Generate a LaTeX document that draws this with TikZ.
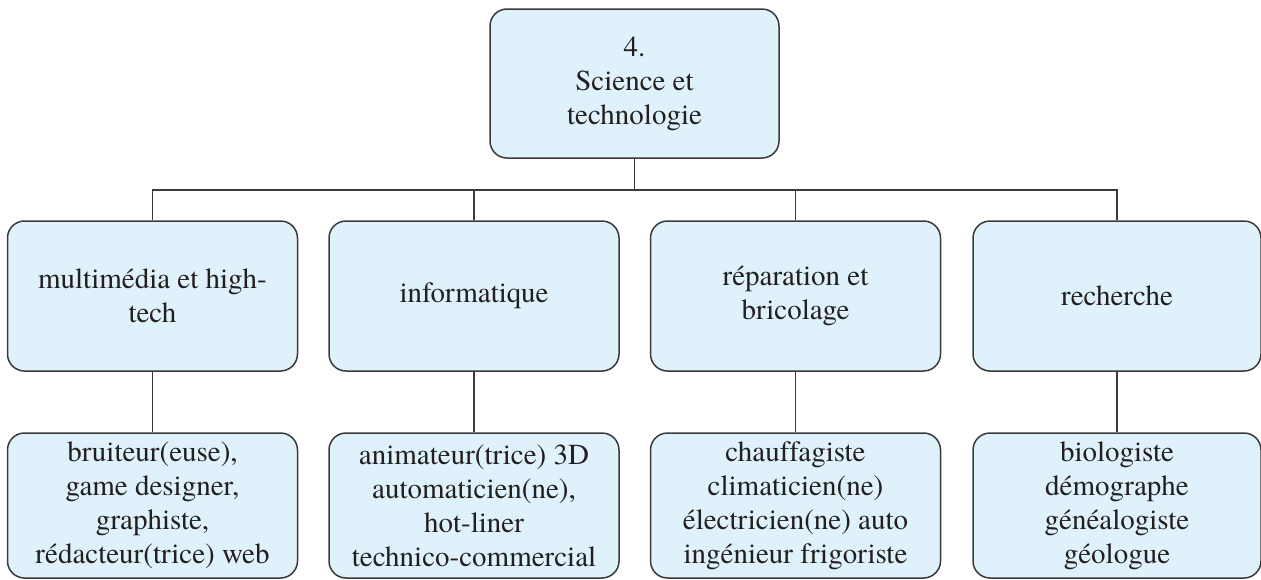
\documentclass[tikz,border=0pt]{standalone}
\usepackage{fontspec}
\setmainfont{TeX Gyre Termes}[Ligatures=NoCommon]
\definecolor{boxfill}{RGB}{223,242,251}
\definecolor{boxline}{RGB}{58,58,60}
\definecolor{txt}{RGB}{35,31,32}
\begin{document}
\begin{tikzpicture}[x=1pt,y=-1pt,
  cbox/.style={draw=boxline, line width=1.5pt, fill=boxfill, rounded corners=17pt,
    minimum width=290pt, align=center, text=txt, inner sep=0pt,
    font=\fontsize{29}{34}\selectfont},
  midbox/.style={cbox, minimum height=150pt},
  lowbox/.style={cbox, minimum height=145pt},
  link/.style={draw=boxline, line width=1.5pt}]
\useasboundingbox (0,0) rectangle (1261,579);
\node[cbox, minimum width=289pt, minimum height=149pt] (top) at (634.5,83.5) {4.\\Science et\\technologie};
\coordinate (bus) at (634.5,190);
\node[midbox] (m1) at (152.5,296) {multimédia et high-\\tech};
\node[midbox] (m2) at (474,296) {informatique};
\node[midbox] (m3) at (795.5,296) {réparation et\\bricolage};
\node[midbox, minimum width=288pt] (m4) at (1117,296) {recherche};
\node[lowbox] (b1) at (152.5,505.5) {bruiteur(euse),\\game designer,\\graphiste,\\rédacteur(trice) web};
\node[lowbox] (b2) at (474,505.5) {animateur(trice) 3D\\automaticien(ne),\\hot-liner\\technico-commercial};
\node[lowbox] (b3) at (795.5,505.5) {chauffagiste\\climaticien(ne)\\électricien(ne) auto\\ingénieur frigoriste};
\node[lowbox, minimum width=288pt] (b4) at (1117,505.5) {biologiste\\démographe\\généalogiste\\géologue};
\draw[link] (top.south) -- (bus);
\draw[link] (m1.north) |- (bus);
\draw[link] (m2.north) |- (bus);
\draw[link] (m3.north) |- (bus);
\draw[link] (m4.north) |- (bus);
\draw[link] (m1.south) -- (b1.north);
\draw[link] (m2.south) -- (b2.north);
\draw[link] (m3.south) -- (b3.north);
\draw[link] (m4.south) -- (b4.north);
\end{tikzpicture}
\end{document}
